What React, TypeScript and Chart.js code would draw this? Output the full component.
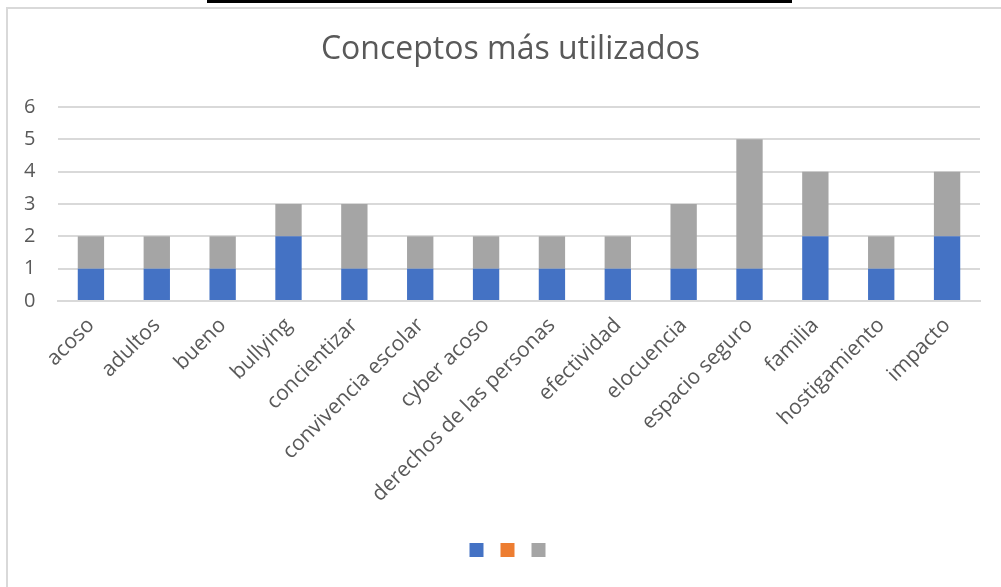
import React, { useEffect, useRef } from "react";
import { Chart, registerables } from "chart.js";

Chart.register(...registerables);

const categories = [
  "acoso",
  "adultos",
  "bueno",
  "bullying",
  "concientizar",
  "convivencia escolar",
  "cyber acoso",
  "derechos de las personas",
  "efectividad",
  "elocuencia",
  "espacio seguro",
  "familia",
  "hostigamiento",
  "impacto",
];
const series1 = [1, 1, 1, 2, 1, 1, 1, 1, 1, 1, 1, 2, 1, 2];
const series2 = [0, 0, 0, 0, 0, 0, 0, 0, 0, 0, 0, 0, 0, 0];
const series3 = [1, 1, 1, 1, 2, 1, 1, 1, 1, 2, 4, 2, 1, 2];
const yTicks = [0, 1, 2, 3, 4, 5, 6];
const title = "Conceptos más utilizados";

const FONT = "'Open Sans', 'Liberation Sans', sans-serif";
const TEXT = "#595959";
const GRID = "#d9d9d9";

export default function App() {
  const ref = useRef<HTMLCanvasElement | null>(null);

  useEffect(() => {
    document.body.style.margin = "0";
    const ctx = ref.current;
    if (!ctx) return;
    const chart = new Chart(ctx, {
      type: "bar",
      data: {
        labels: categories,
        datasets: [
          { label: "", data: series1, backgroundColor: "#4472C4", borderWidth: 0 },
          { label: "", data: series2, backgroundColor: "#ED7D31", borderWidth: 0 },
          { label: "", data: series3, backgroundColor: "#A5A5A5", borderWidth: 0 },
        ],
      },
      options: {
        responsive: false,
        animation: false,
        devicePixelRatio: 1,
        layout: { padding: { left: 41, right: 21, top: 15, bottom: 20 } },
        datasets: { bar: { categoryPercentage: 1, barPercentage: 0.4 } },
        plugins: {
          title: {
            display: true,
            text: title,
            color: TEXT,
            font: { family: FONT, size: 32, weight: "normal", lineHeight: 1.2 },
            padding: { top: 16, bottom: 37.6 },
          },
          legend: {
            display: true,
            position: "bottom",
            labels: {
              boxWidth: 14,
              boxHeight: 14,
              padding: 11,
              font: { family: FONT, size: 12 },
              color: TEXT,
            },
          },
          tooltip: { enabled: false },
        },
        scales: {
          x: {
            stacked: true,
            grid: { display: false, drawTicks: false },
            border: { display: true, color: GRID, width: 2 },
            afterFit: (scale: any) => {
              scale.paddingLeft = 0;
              scale.paddingRight = 0;
              scale.height = 231;
            },
            ticks: {
              autoSkip: false,
              minRotation: 45,
              maxRotation: 45,
              padding: 12,
              color: TEXT,
              font: { family: FONT, size: 21 },
            },
          },
          y: {
            stacked: true,
            min: 0,
            max: 6,
            afterBuildTicks: (axis: any) => {
              axis.ticks = yTicks.map((v) => ({ value: v }));
            },
            afterFit: (scale: any) => {
              scale.width = 17;
            },
            grid: { color: GRID, lineWidth: 2, drawTicks: false },
            border: { display: false },
            ticks: {
              mirror: true,
              crossAlign: "near",
              padding: -34,
              color: TEXT,
              font: { family: FONT, size: 20 },
            },
          },
        },
      },
    });
    return () => chart.destroy();
  }, []);

  return (
    <div style={{ position: "relative", width: 1001, height: 587, overflow: "hidden", background: "#fff" }}>
      <div style={{ position: "absolute", left: 207, top: 0, width: 585, height: 3, background: "#000" }} />
      <div
        style={{
          position: "absolute",
          left: 6,
          top: 7,
          width: 1001,
          height: 587,
          borderLeft: "2px solid #d9d9d9",
          borderTop: "2px solid #d9d9d9",
        }}
      />
      <canvas ref={ref} width={1001} height={587} style={{ position: "absolute", left: 0, top: 0 }} />
    </div>
  );
}
